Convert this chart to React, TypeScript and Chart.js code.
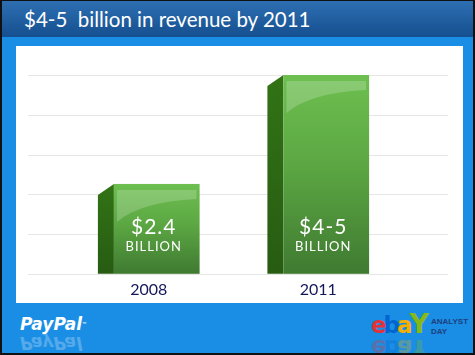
import React, { useEffect, useRef } from 'react';
import { Chart, registerables } from 'chart.js';

Chart.register(...registerables);

const titleText = '$4-5  billion in revenue by 2011';
const categories = ['2008', '2011'];
const barValues = [2.26, 5.0];
const valueLabels = ['$2.4', '$4-5'];
const unitLabels = ['BILLION', 'BILLION'];
const gridValues = [0, 1, 2, 3, 4, 5];

const FONT = 'Lato, "Open Sans", sans-serif';

const bar3dPlugin = {
  id: 'bar3d',
  beforeDatasetsDraw(chart: any) {
    const { ctx } = chart;
    const ys = chart.scales.y;
    ctx.save();
    ctx.strokeStyle = '#e6e6e6';
    ctx.lineWidth = 1;
    gridValues.forEach((v) => {
      const py = Math.round(ys.getPixelForValue(v)) + 0.5;
      ctx.beginPath();
      ctx.moveTo(12, py);
      ctx.lineTo(432, py);
      ctx.stroke();
    });
    ctx.restore();
  },
  afterDatasetsDraw(chart: any) {
    const { ctx } = chart;
    const meta = chart.getDatasetMeta(0);
    meta.data.forEach((el: any, i: number) => {
      const { x, y, base, width } = el.getProps(['x', 'y', 'base', 'width'], true);
      const left = x - width / 2;
      const right = x + width / 2;
      const sideW = Math.round(width * 0.16);
      const fl = left + sideW;
      ctx.save();
      // side face
      const sg = ctx.createLinearGradient(0, y, 0, base);
      sg.addColorStop(0, '#327315');
      sg.addColorStop(1, '#275c12');
      ctx.fillStyle = sg;
      ctx.beginPath();
      ctx.moveTo(left, y + 11);
      ctx.lineTo(fl, y);
      ctx.lineTo(fl, base);
      ctx.lineTo(left, base);
      ctx.closePath();
      ctx.fill();
      // front face
      const g = ctx.createLinearGradient(0, y, 0, base);
      g.addColorStop(0, '#6dbf50');
      g.addColorStop(0.45, '#5ca743');
      g.addColorStop(1, '#3f7a31');
      ctx.fillStyle = g;
      ctx.fillRect(fl, y, right - fl, base - y);
      // gloss
      ctx.fillStyle = 'rgba(255,255,255,0.2)';
      ctx.beginPath();
      ctx.moveTo(fl + 3, y + 6);
      ctx.lineTo(right - 3, y + 6);
      ctx.lineTo(right - 3, y + 15);
      ctx.quadraticCurveTo(fl + (right - fl) * 0.3, y + 18, fl + 3, y + 38);
      ctx.closePath();
      ctx.fill();
      // labels
      const cx = (fl + right) / 2 - 3;
      ctx.fillStyle = '#ffffff';
      ctx.textAlign = 'center';
      ctx.textBaseline = 'alphabetic';
      (ctx as any).letterSpacing = '1px';
      ctx.font = `21px ${FONT}`;
      ctx.fillText(valueLabels[i], cx, base - 40);
      ctx.font = `13px ${FONT}`;
      ctx.fillText(unitLabels[i], cx, base - 23);
      ctx.restore();
    });
  },
};

function BarChart() {
  const ref = useRef<HTMLCanvasElement>(null);
  useEffect(() => {
    if (!ref.current) return;
    const chart = new Chart(ref.current, {
      type: 'bar',
      data: {
        labels: categories,
        datasets: [
          {
            data: barValues,
            backgroundColor: 'rgba(0,0,0,0)',
            borderWidth: 0,
            barPercentage: 0.6,
            categoryPercentage: 1,
          },
        ],
      },
      options: {
        responsive: false,
        animation: false,
        devicePixelRatio: 1,
        layout: { padding: { left: 48, right: 60, top: 29, bottom: 3 } },
        plugins: { legend: { display: false }, tooltip: { enabled: false } },
        scales: {
          y: { display: false, min: 0, max: 5 },
          x: {
            grid: { display: false, drawTicks: false },
            border: { display: false },
            ticks: {
              padding: 6,
              color: '#14185a',
              font: { family: FONT, size: 16 },
            },
          },
        },
      },
      plugins: [bar3dPlugin],
    });
    return () => chart.destroy();
  }, []);
  return <canvas ref={ref} width={447} height={262} style={{ display: 'block' }} />;
}

const ebayLetters = (
  <>
    <span style={{ color: '#e53238' }}>e</span>
    <span style={{ color: '#0064d2' }}>b</span>
    <span style={{ color: '#f5af02' }}>a</span>
    <span style={{ color: '#86b817', fontSize: 27 }}>Y</span>
  </>
);

export default function App() {
  return (
    <div
      style={{
        position: 'fixed',
        left: 0,
        top: 0,
        width: 475,
        height: 355,
        boxSizing: 'border-box',
        background: '#1a8ee4',
        borderStyle: 'solid',
        borderColor: '#111',
        borderWidth: '1px 2px 2px 2px',
        overflow: 'hidden',
        fontFamily: FONT,
      }}
    >
      <div
        style={{
          position: 'absolute',
          left: 0,
          top: 0,
          right: 0,
          height: 36,
          background: 'linear-gradient(#2d6fb2, #154f8f)',
        }}
      />
      <div
        style={{
          position: 'absolute',
          left: 22,
          top: 4,
          color: '#fff',
          fontSize: 20.5,
          lineHeight: '28px',
          whiteSpace: 'pre',
        }}
      >
        {titleText}
      </div>
      <div
        style={{
          position: 'absolute',
          left: 14,
          top: 45,
          width: 447,
          height: 257,
          background: '#fff',
        }}
      />
      <div style={{ position: 'absolute', left: 14, top: 45 }}>
        <BarChart />
      </div>
      <div
        style={{
          position: 'absolute',
          left: 18,
          top: 313,
          color: '#fff',
          fontFamily: '"DejaVu Sans", sans-serif',
          fontWeight: 'bold',
          fontStyle: 'italic',
          fontSize: 17,
          lineHeight: '20px',
        }}
      >
        PayPal<span style={{ fontSize: 5, verticalAlign: 'top' }}>™</span>
      </div>
      <div
        style={{
          position: 'absolute',
          left: 18,
          top: 332,
          color: '#fff',
          opacity: 0.25,
          transform: 'scaleY(-1)',
          fontFamily: '"DejaVu Sans", sans-serif',
          fontWeight: 'bold',
          fontStyle: 'italic',
          fontSize: 17,
          lineHeight: '20px',
        }}
      >
        PayPal
      </div>
      <div
        style={{
          position: 'absolute',
          left: 369,
          top: 310,
          fontFamily: '"DejaVu Sans", sans-serif',
          fontWeight: 'bold',
          fontSize: 23,
          lineHeight: '26px',
          letterSpacing: -3,
        }}
      >
        {ebayLetters}
      </div>
      <div
        style={{
          position: 'absolute',
          left: 369,
          top: 334,
          opacity: 0.3,
          transform: 'scaleY(-1)',
          fontFamily: '"DejaVu Sans", sans-serif',
          fontWeight: 'bold',
          fontSize: 23,
          lineHeight: '26px',
          letterSpacing: -3,
        }}
      >
        {ebayLetters}
      </div>
      <div
        style={{
          position: 'absolute',
          left: 429,
          top: 316,
          color: '#1d3f7e',
          fontFamily: '"Liberation Sans", sans-serif',
          fontWeight: 'bold',
          fontSize: 8,
          lineHeight: '10px',
        }}
      >
        ANALYST
        <br />
        DAY
      </div>
    </div>
  );
}
